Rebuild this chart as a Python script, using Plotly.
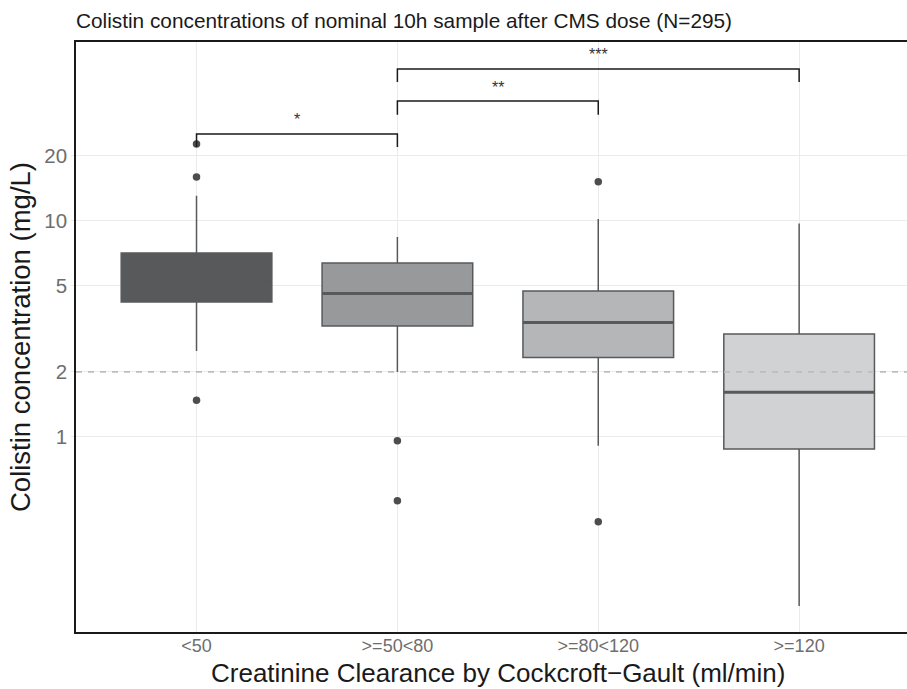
import plotly.graph_objects as go
import numpy as np

categories = ["<50", ">=50<80", ">=80<120", ">=120"]
q1 = [4.22, 3.26, 2.33, 0.88]
median = [5.2, 4.62, 3.39, 1.61]
q3 = [7.11, 6.39, 4.74, 3.0]
lower_whisker = [2.5, 2.0, 0.91, 0.165]
upper_whisker = [13.1, 8.43, 10.2, 9.73]
outliers = [[22.7, 16.0, 1.48], [0.96, 0.506], [15.2, 0.405], []]
fills = ["#58595b", "#98999b", "#b5b6b8", "#d1d2d4"]

# significance brackets: (group a, group b, bracket height, tick bottom, label, label height)
br_a = [0, 1, 1]
br_b = [1, 2, 3]
br_top = [25.3, 35.9, 50.6]
br_bottom = [22.0, 31.0, 44.0]
br_label = ["*", "**", "***"]
br_label_y = [29.5, 41.5, 59.0]

ref_line = 2.0
line_col = "#58595b"
box_w = 0.75

fig = go.Figure()
xs = list(range(len(categories)))
for i in xs:
    fig.add_trace(go.Box(
        x=[i], q1=[q1[i]], median=[median[i]], q3=[q3[i]],
        lowerfence=[lower_whisker[i]], upperfence=[upper_whisker[i]],
        fillcolor=fills[i], line=dict(color=line_col, width=1.5),
        width=box_w, whiskerwidth=0, boxpoints=False, showlegend=False,
        hoverinfo="skip",
    ))
    # thick median line
    fig.add_trace(go.Scatter(
        x=[i - box_w / 2, i + box_w / 2], y=[median[i], median[i]], mode="lines",
        line=dict(color=line_col, width=3), showlegend=False, hoverinfo="skip"))
    if outliers[i]:
        fig.add_trace(go.Scatter(
            x=[i] * len(outliers[i]), y=outliers[i], mode="markers",
            marker=dict(color="#4d4d4f", size=7.5), showlegend=False, hoverinfo="skip"))

for a, b, top, bot, lab, ly in zip(br_a, br_b, br_top, br_bottom, br_label, br_label_y):
    fig.add_trace(go.Scatter(
        x=[a, a, b, b], y=[bot, top, top, bot], mode="lines",
        line=dict(color="#1a1a1a", width=1.5), showlegend=False, hoverinfo="skip"))
    fig.add_annotation(x=(a + b) / 2, y=np.log10(ly), text=lab, showarrow=False,
                       font=dict(size=16, color="#333333", family="Liberation Sans"))

fig.add_shape(type="line", xref="paper", x0=0, x1=1, yref="y", y0=ref_line, y1=ref_line,
              line=dict(color="#bdbdbd", width=1.8, dash="6px,6px"), layer="above")

# x-axis title (centred on the full panel, which runs past the right edge)
fig.add_annotation(x=1.5, xref="x", y=-(673 - 632) / 590, yref="paper", yanchor="middle",
                   text="Creatinine Clearance by Cockcroft\u2212Gault (ml/min)", showarrow=False,
                   font=dict(size=26, color="#1a1a1a", family="Liberation Sans"))

fig.update_layout(
    width=907, height=689,
    margin=dict(l=76, r=0, t=42, b=57),
    paper_bgcolor="white", plot_bgcolor="white",
    font=dict(family="Liberation Sans"),
    title=dict(text="Colistin concentrations of nominal 10h sample after CMS dose (N=295)",
               x=76 / 907, xanchor="left", xref="container", y=1 - 21 / 689, yanchor="middle",
               yref="container", font=dict(size=20.8, color="#1a1a1a")),
    xaxis=dict(
        range=[-0.6, 3.537], tickvals=xs, ticktext=categories,
        showgrid=True, gridcolor="#ebebeb", gridwidth=1.3, zeroline=False,
        showline=True, linecolor="#1a1a1a", linewidth=1.6, mirror=True,
        ticks="", ticklen=0, ticklabelstandoff=-3,
        tickfont=dict(size=18, color="#6e6e6e"),
    ),
    yaxis=dict(
        type="log", range=[np.log10(0.125), np.log10(67.4)],
        tickvals=[1, 2, 5, 10, 20], ticktext=["1", "2", "5", "10", "20"],
        showgrid=True, gridcolor="#ebebeb", gridwidth=1.3, zeroline=False,
        showline=True, linecolor="#1a1a1a", linewidth=1.6, mirror=False,
        ticks="outside", ticklen=3, tickcolor="#ebebeb",
        tickfont=dict(size=20.5, color="#6e6e6e"),
        title=dict(text="Colistin concentration (mg/L)",
                   font=dict(size=27.5, color="#1a1a1a"), standoff=6),
    ),
)

fig.write_html("out.html")
